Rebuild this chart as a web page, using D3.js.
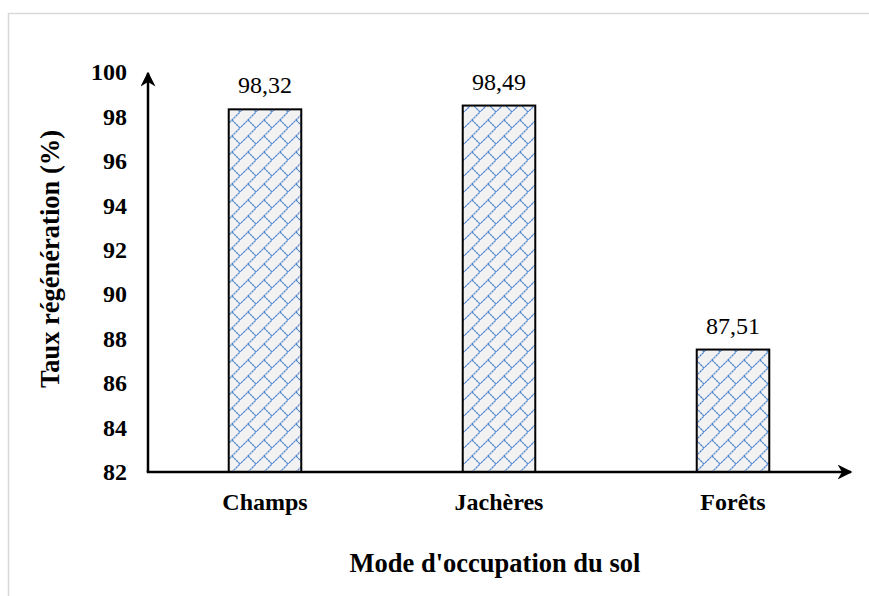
<!DOCTYPE html>
<html>
<head>
<meta charset="utf-8">
<script src="https://cdn.jsdelivr.net/npm/d3@7"></script>
<style>
  html, body { margin: 0; padding: 0; background: #fff; }
  svg { display: block; }
</style>
</head>
<body>
<svg id="chart" width="869" height="596"></svg>
<script>
// Land use categories and regeneration rates (%)
const categories = ["Champs", "Jachères", "Forêts"];
const rates = [98.32, 98.49, 87.51];
const rateLabels = ["98,32", "98,49", "87,51"];
const yTicks = [82, 84, 86, 88, 90, 92, 94, 96, 98, 100];

const svg = d3.select("#chart");
const W = 869, H = 596;
const font = "'Liberation Serif', 'Times New Roman', serif";

// Chart area frame
svg.append("rect")
  .attr("x", 8.5).attr("y", 13.5)
  .attr("width", W).attr("height", H)
  .attr("fill", "#fff")
  .attr("stroke", "#d9d9d9").attr("stroke-width", 1.5);

// Diagonal brick fill pattern
const defs = svg.append("defs");
const T = 16;
const pat = defs.append("pattern")
  .attr("id", "brick")
  .attr("patternUnits", "userSpaceOnUse")
  .attr("width", T).attr("height", T);
pat.append("rect").attr("width", T).attr("height", T).attr("fill", "#f2f2f2");
const pg = pat.append("g")
  .attr("stroke", "#5288cf").attr("stroke-width", 1.25)
  .attr("stroke-dasharray", "2.5 0.5")
  .attr("fill", "none");
pg.append("line").attr("x1", -1).attr("y1", T + 1).attr("x2", T + 1).attr("y2", -1);
pg.append("line").attr("x1", T / 2).attr("y1", T / 2).attr("x2", T).attr("y2", T);

// Scales
const x0 = 148, x1 = 850;
const y = d3.scaleLinear().domain([82, 100]).range([472, 72]);
const x = d3.scaleBand().domain(categories).range([x0, x1])
  .paddingInner(0.69).paddingOuter(0.345);

// Bars
svg.append("g").selectAll("rect")
  .data(categories)
  .join("rect")
  .attr("x", d => x(d))
  .attr("y", (d, i) => y(rates[i]))
  .attr("width", x.bandwidth())
  .attr("height", (d, i) => y(82) - y(rates[i]))
  .attr("fill", "url(#brick)")
  .attr("stroke", "#000").attr("stroke-width", 2);

// Value labels
svg.append("g").selectAll("text")
  .data(categories)
  .join("text")
  .attr("x", d => x(d) + x.bandwidth() / 2)
  .attr("y", (d, i) => y(rates[i]) - 16)
  .attr("text-anchor", "middle")
  .attr("font-family", font).attr("font-size", 24)
  .text((d, i) => rateLabels[i]);

// Y axis
const yAxis = d3.axisLeft(y).tickValues(yTicks).tickSize(0).tickPadding(21)
  .tickFormat(d3.format("d"));
const gy = svg.append("g").attr("transform", `translate(${x0},0)`).call(yAxis);
gy.select(".domain").remove();
gy.selectAll("text")
  .attr("font-family", font).attr("font-size", 24).attr("font-weight", "bold")
  .attr("fill", "#000");

// X axis labels
const xAxis = d3.axisBottom(x).tickSize(0).tickPadding(21);
const gx = svg.append("g").attr("transform", `translate(0,${y(82)})`).call(xAxis);
gx.select(".domain").remove();
gx.selectAll("text")
  .attr("font-family", font).attr("font-size", 24).attr("font-weight", "bold")
  .attr("fill", "#000");

// Axis lines with arrowheads
defs.append("marker")
  .attr("id", "arrow")
  .attr("viewBox", "0 0 10 10")
  .attr("refX", 9).attr("refY", 5)
  .attr("markerWidth", 6).attr("markerHeight", 6)
  .attr("markerUnits", "strokeWidth")
  .attr("orient", "auto")
  .append("path")
  .attr("d", "M0,0 L10,5 L0,10 L3,5 Z")
  .attr("fill", "#000");

svg.append("line")
  .attr("x1", x0).attr("y1", y(82)).attr("x2", x0).attr("y2", 73)
  .attr("stroke", "#000").attr("stroke-width", 2.5)
  .attr("marker-end", "url(#arrow)");
svg.append("line")
  .attr("x1", x0 - 1.25).attr("y1", y(82)).attr("x2", 851).attr("y2", y(82))
  .attr("stroke", "#000").attr("stroke-width", 2.5)
  .attr("marker-end", "url(#arrow)");

// Axis titles
svg.append("text")
  .attr("x", 495).attr("y", 572)
  .attr("text-anchor", "middle")
  .attr("font-family", font).attr("font-size", 26.5).attr("font-weight", "bold")
  .text("Mode d'occupation du sol");

svg.append("text")
  .attr("transform", "translate(59,259) rotate(-90)")
  .attr("text-anchor", "middle")
  .attr("font-family", font).attr("font-size", 26.5).attr("font-weight", "bold")
  .text("Taux régénération (%)");
</script>
</body>
</html>
